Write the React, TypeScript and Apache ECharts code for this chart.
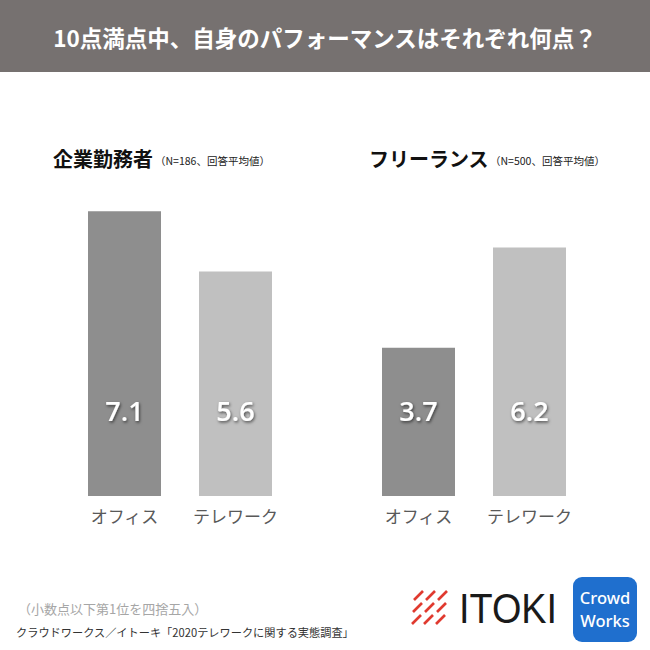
import React, { useEffect, useRef } from "react";
import * as echarts from "echarts";

const categories = ["オフィス", "テレワーク"];
const employeeValues = [7.1, 5.6];
const freelanceValues = [3.7, 6.2];
const barColors = ["#8e8e8e", "#c0c0c0"];

const title = "10点満点中、自身のパフォーマンスはそれぞれ何点？";
const group1Title = "企業勤務者";
const group1Note = "（N=186、回答平均値）";
const group2Title = "フリーランス";
const group2Note = "（N=500、回答平均値）";
const footnote = "（小数点以下第1位を四捨五入）";
const source = "クラウドワークス／イトーキ「2020テレワークに関する実態調査」";

const FONT = "'Noto Sans CJK JP', 'Noto Sans', sans-serif";

export default function App() {
  const ref = useRef<HTMLDivElement>(null);
  useEffect(() => {
    if (!ref.current) return;
    const chart = echarts.init(ref.current, null, { renderer: "svg" });

    const mkData = (vals: number[]) =>
      vals.map((v, i) => ({ value: v, itemStyle: { color: barColors[i] } }));

    const label = {
      show: true,
      position: "insideBottom",
      distance: 72,
      color: "#ffffff",
      fontSize: 27,
      fontWeight: 600,
      fontFamily: "'Open Sans', 'Noto Sans', sans-serif",
      textShadowColor: "rgba(0,0,0,0.6)",
      textShadowBlur: 3,
      textShadowOffsetX: 1,
      textShadowOffsetY: 1.5,
      formatter: (p: any) => Number(p.value).toFixed(1),
    };

    const xAxisBase = {
      type: "category",
      data: categories,
      axisLine: { show: false },
      axisTick: { show: false },
      axisLabel: { color: "#595959", fontSize: 17, margin: 11, fontFamily: FONT },
    };
    const yAxisBase = { type: "value", min: 0, max: 10, show: false };

    const slashes: any[] = [];
    for (let r = 0; r < 3; r++) {
      for (let c = 0; c < 3; c++) {
        const x0 = 414 + c * 12 - r * 1;
        const y0 = 600 + r * 12;
        slashes.push({
          type: "line",
          shape: { x1: x0, y1: y0, x2: x0 + 9, y2: y0 - 9 },
          style: { stroke: "#e03a2f", lineWidth: 2.6, lineCap: "butt" },
        });
      }
    }

    chart.setOption({
      animation: false,
      backgroundColor: "#ffffff",
      grid: [
        { left: 69, width: 222, top: 95, height: 401 },
        { left: 363, width: 222, top: 95, height: 401 },
      ],
      xAxis: [
        { ...xAxisBase, gridIndex: 0 },
        { ...xAxisBase, gridIndex: 1 },
      ],
      yAxis: [
        { ...yAxisBase, gridIndex: 0 },
        { ...yAxisBase, gridIndex: 1 },
      ],
      series: [
        {
          type: "bar",
          xAxisIndex: 0,
          yAxisIndex: 0,
          barWidth: 73,
          data: mkData(employeeValues),
          label,
        },
        {
          type: "bar",
          xAxisIndex: 1,
          yAxisIndex: 1,
          barWidth: 73,
          data: mkData(freelanceValues),
          label,
        },
      ],
      graphic: [
        { type: "rect", shape: { x: 0, y: 0, width: 650, height: 72 }, style: { fill: "#767170" } },
        {
          type: "text",
          x: 325,
          y: 37,
          style: {
            text: title,
            fill: "#ffffff",
            fontSize: 22.5,
            fontWeight: "bold",
            fontFamily: FONT,
            align: "center",
            verticalAlign: "middle",
          },
        },
        {
          type: "text",
          x: 53,
          y: 158,
          style: { text: group1Title, fill: "#111111", fontSize: 20, fontWeight: "bold", fontFamily: FONT, verticalAlign: "middle" },
        },
        {
          type: "text",
          x: 155,
          y: 160,
          style: { text: group1Note, fill: "#222222", fontSize: 10.5, fontFamily: FONT, verticalAlign: "middle" },
        },
        {
          type: "text",
          x: 369,
          y: 158,
          style: { text: group2Title, fill: "#111111", fontSize: 20, fontWeight: "bold", fontFamily: FONT, verticalAlign: "middle" },
        },
        {
          type: "text",
          x: 490,
          y: 160,
          style: { text: group2Note, fill: "#222222", fontSize: 10.5, fontFamily: FONT, verticalAlign: "middle" },
        },
        {
          type: "text",
          x: 18,
          y: 608,
          style: { text: footnote, fill: "#a6a6a6", fontSize: 13, fontFamily: FONT, verticalAlign: "middle" },
        },
        {
          type: "text",
          x: 16,
          y: 632,
          style: { text: source, fill: "#333333", fontSize: 11.2, fontFamily: FONT, verticalAlign: "middle" },
        },
        ...slashes,
        {
          type: "text",
          x: 459,
          y: 608,
          scaleX: 0.88,
          style: {
            text: "ITOKI",
            fill: "#1a1a1a",
            fontSize: 43,
            fontFamily: "'Liberation Sans', Arial, sans-serif",
            verticalAlign: "middle",
          },
        },
        {
          type: "rect",
          shape: { x: 573, y: 577, width: 64, height: 65, r: 9 },
          style: { fill: "#1f6fce" },
        },
        {
          type: "text",
          x: 605,
          y: 597,
          style: { text: "Crowd", fill: "#ffffff", fontSize: 16.5, fontWeight: 500, fontFamily: "'Noto Sans', sans-serif", align: "center", verticalAlign: "middle" },
        },
        {
          type: "text",
          x: 605,
          y: 620,
          style: { text: "Works", fill: "#ffffff", fontSize: 16.5, fontWeight: 500, fontFamily: "'Noto Sans', sans-serif", align: "center", verticalAlign: "middle" },
        },
      ],
    });
    return () => chart.dispose();
  }, []);
  return (
    <div
      ref={ref}
      style={{ position: "fixed", left: 0, top: 0, width: 650, height: 650 }}
    />
  );
}
